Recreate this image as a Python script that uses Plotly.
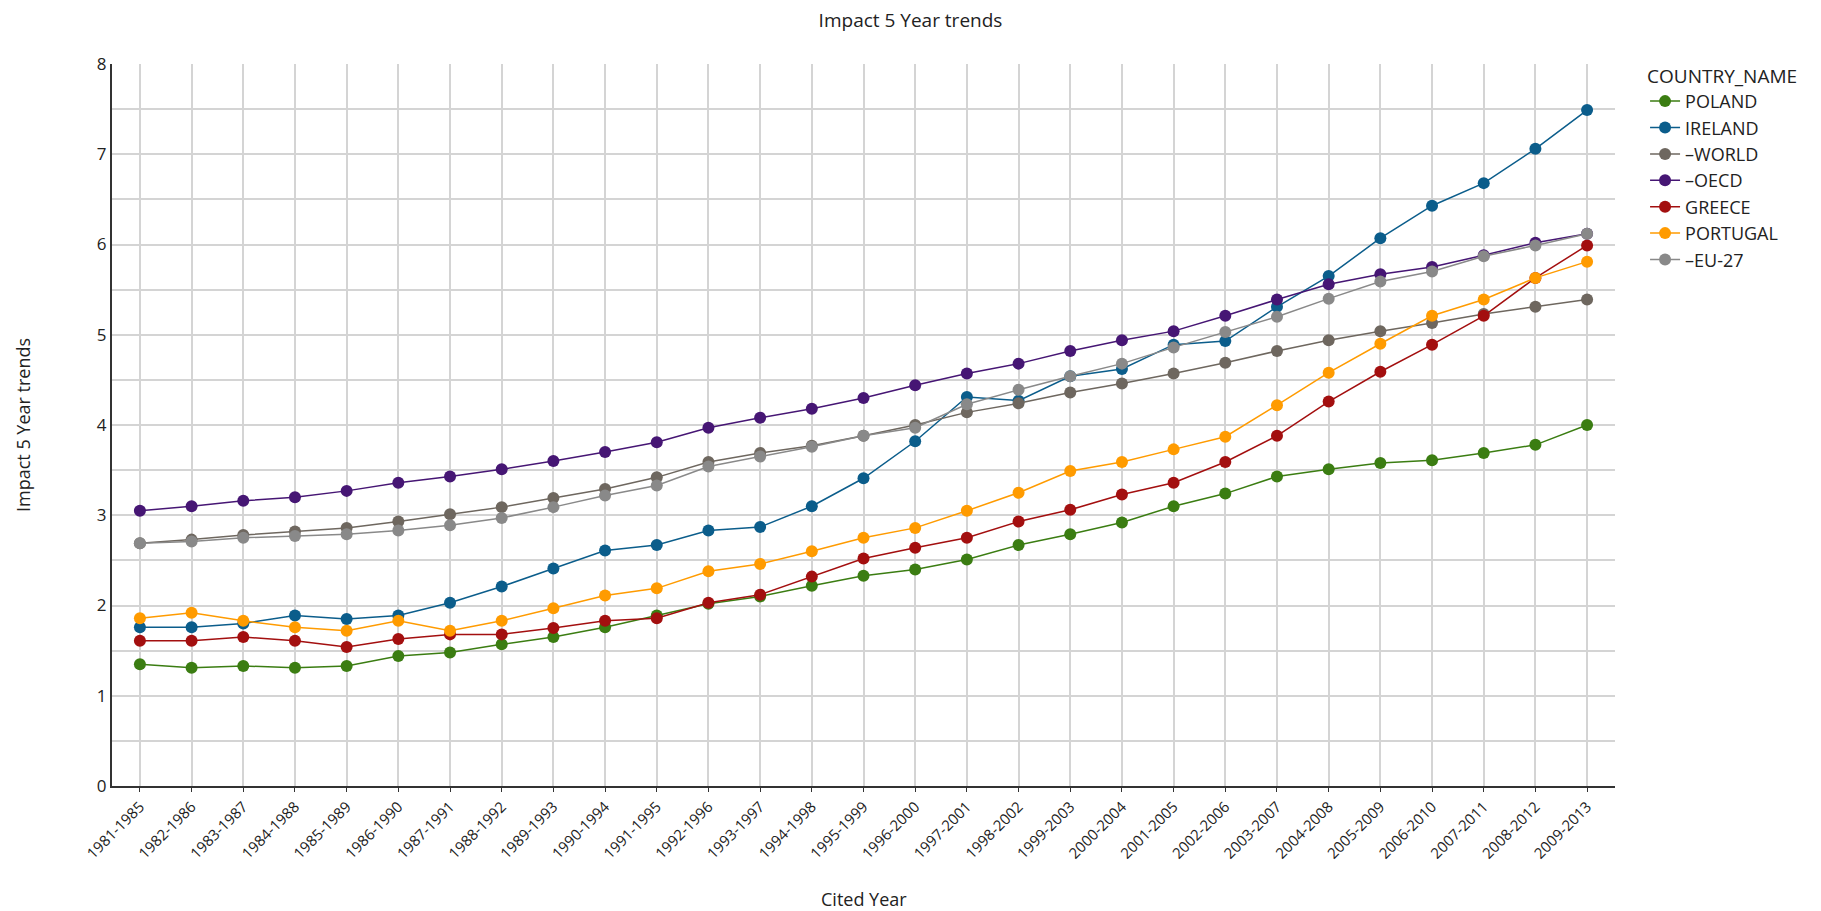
import plotly.graph_objects as go

categories = ["1981-1985","1982-1986","1983-1987","1984-1988","1985-1989","1986-1990","1987-1991",
              "1988-1992","1989-1993","1990-1994","1991-1995","1992-1996","1993-1997","1994-1998",
              "1995-1999","1996-2000","1997-2001","1998-2002","1999-2003","2000-2004","2001-2005",
              "2002-2006","2003-2007","2004-2008","2005-2009","2006-2010","2007-2011","2008-2012","2009-2013"]

poland = [1.35,1.31,1.33,1.31,1.33,1.44,1.48,1.57,1.65,1.76,1.89,2.02,2.10,2.22,2.33,2.40,2.51,2.67,
          2.79,2.92,3.10,3.24,3.43,3.51,3.58,3.61,3.69,3.78,4.00]
ireland = [1.76,1.76,1.80,1.89,1.85,1.89,2.03,2.21,2.41,2.61,2.67,2.83,2.87,3.10,3.41,3.82,4.31,4.27,
           4.54,4.62,4.89,4.93,5.31,5.65,6.07,6.43,6.68,7.06,7.49]
world = [2.69,2.73,2.78,2.82,2.86,2.93,3.01,3.09,3.19,3.29,3.42,3.59,3.69,3.77,3.88,4.00,4.14,4.24,
         4.36,4.46,4.57,4.69,4.82,4.94,5.04,5.13,5.23,5.31,5.39]
oecd = [3.05,3.10,3.16,3.20,3.27,3.36,3.43,3.51,3.60,3.70,3.81,3.97,4.08,4.18,4.30,4.44,4.57,4.68,
        4.82,4.94,5.04,5.21,5.39,5.56,5.67,5.75,5.88,6.02,6.12]
greece = [1.61,1.61,1.65,1.61,1.54,1.63,1.68,1.68,1.75,1.83,1.86,2.03,2.12,2.32,2.52,2.64,2.75,2.93,
          3.06,3.23,3.36,3.59,3.88,4.26,4.59,4.89,5.21,5.63,5.99]
portugal = [1.86,1.92,1.83,1.76,1.72,1.83,1.72,1.83,1.97,2.11,2.19,2.38,2.46,2.60,2.75,2.86,3.05,3.25,
            3.49,3.59,3.73,3.87,4.22,4.58,4.90,5.21,5.39,5.63,5.81]
eu27 = [2.69,2.71,2.75,2.77,2.79,2.83,2.89,2.97,3.09,3.22,3.33,3.54,3.65,3.76,3.88,3.97,4.23,4.39,
        4.54,4.68,4.86,5.03,5.20,5.40,5.59,5.70,5.87,5.99,6.12]

series_names = ["POLAND", "IRELAND", "–WORLD", "–OECD", "GREECE", "PORTUGAL", "–EU-27"]
series_values = [poland, ireland, world, oecd, greece, portugal, eu27]
series_colors = ["#3b7d12", "#0b5d8b", "#6e675f", "#461674", "#a30f0f", "#ff9b00", "#898989"]

fig = go.Figure()
for name, vals, col in zip(series_names, series_values, series_colors):
    fig.add_trace(go.Scatter(
        x=categories, y=vals, name=name, mode="lines+markers",
        line=dict(color=col, width=1.5),
        marker=dict(color=col, size=12),
    ))

FONT = "Open Sans"
TXT = "#222222"
fig.update_layout(
    width=1821, height=911,
    paper_bgcolor="white", plot_bgcolor="white",
    margin=dict(l=112, r=206, t=64, b=125),
    font=dict(family=FONT, color=TXT, size=15),
    title=dict(text="Impact 5 Year trends", x=0.5, xanchor="center", y=0.978, yanchor="middle",
               font=dict(family=FONT, size=19, color=TXT)),
    showlegend=True,
    legend=dict(
        title=dict(text="COUNTRY_NAME", font=dict(family=FONT, size=19, color=TXT)),
        x=1.02, xanchor="left", y=1.008, yanchor="top",
        font=dict(family=FONT, size=18, color=TXT),
        tracegroupgap=0, itemwidth=30, bgcolor="rgba(0,0,0,0)",
    ),
    xaxis=dict(
        type="category", range=[-0.54, 28.54],
        showgrid=True, gridcolor="#d4d4d4", gridwidth=2,
        showline=True, linecolor="#333333", linewidth=2,
        ticks="outside", tickcolor="#333333", ticklen=4,
        tickangle=-45, tickfont=dict(family=FONT, size=15, color=TXT),
        zeroline=False,
    ),
    yaxis=dict(
        range=[0, 8], dtick=1, tick0=0,
        showgrid=True, gridcolor="#d4d4d4", gridwidth=2,
        minor=dict(dtick=0.5, showgrid=True, gridcolor="#d4d4d4", gridwidth=2),
        showline=True, linecolor="#333333", linewidth=2,
        ticks="", tickfont=dict(family=FONT, size=17, color=TXT),
        zeroline=False,
    ),
    annotations=[
        dict(text="Cited Year", xref="paper", yref="paper", x=0.5, y=-0.1565,
             xanchor="center", yanchor="middle", showarrow=False,
             font=dict(family=FONT, size=18, color=TXT)),
        dict(text="Impact 5 Year trends", xref="paper", yref="paper", x=-0.0592, y=0.5,
             xanchor="center", yanchor="middle", textangle=-90, showarrow=False,
             font=dict(family=FONT, size=18, color=TXT)),
    ],
)

fig.write_html("out.html",
               config={"displayModeBar": False},
               post_script="document.body.style.margin='0';document.body.style.overflow='hidden';")
